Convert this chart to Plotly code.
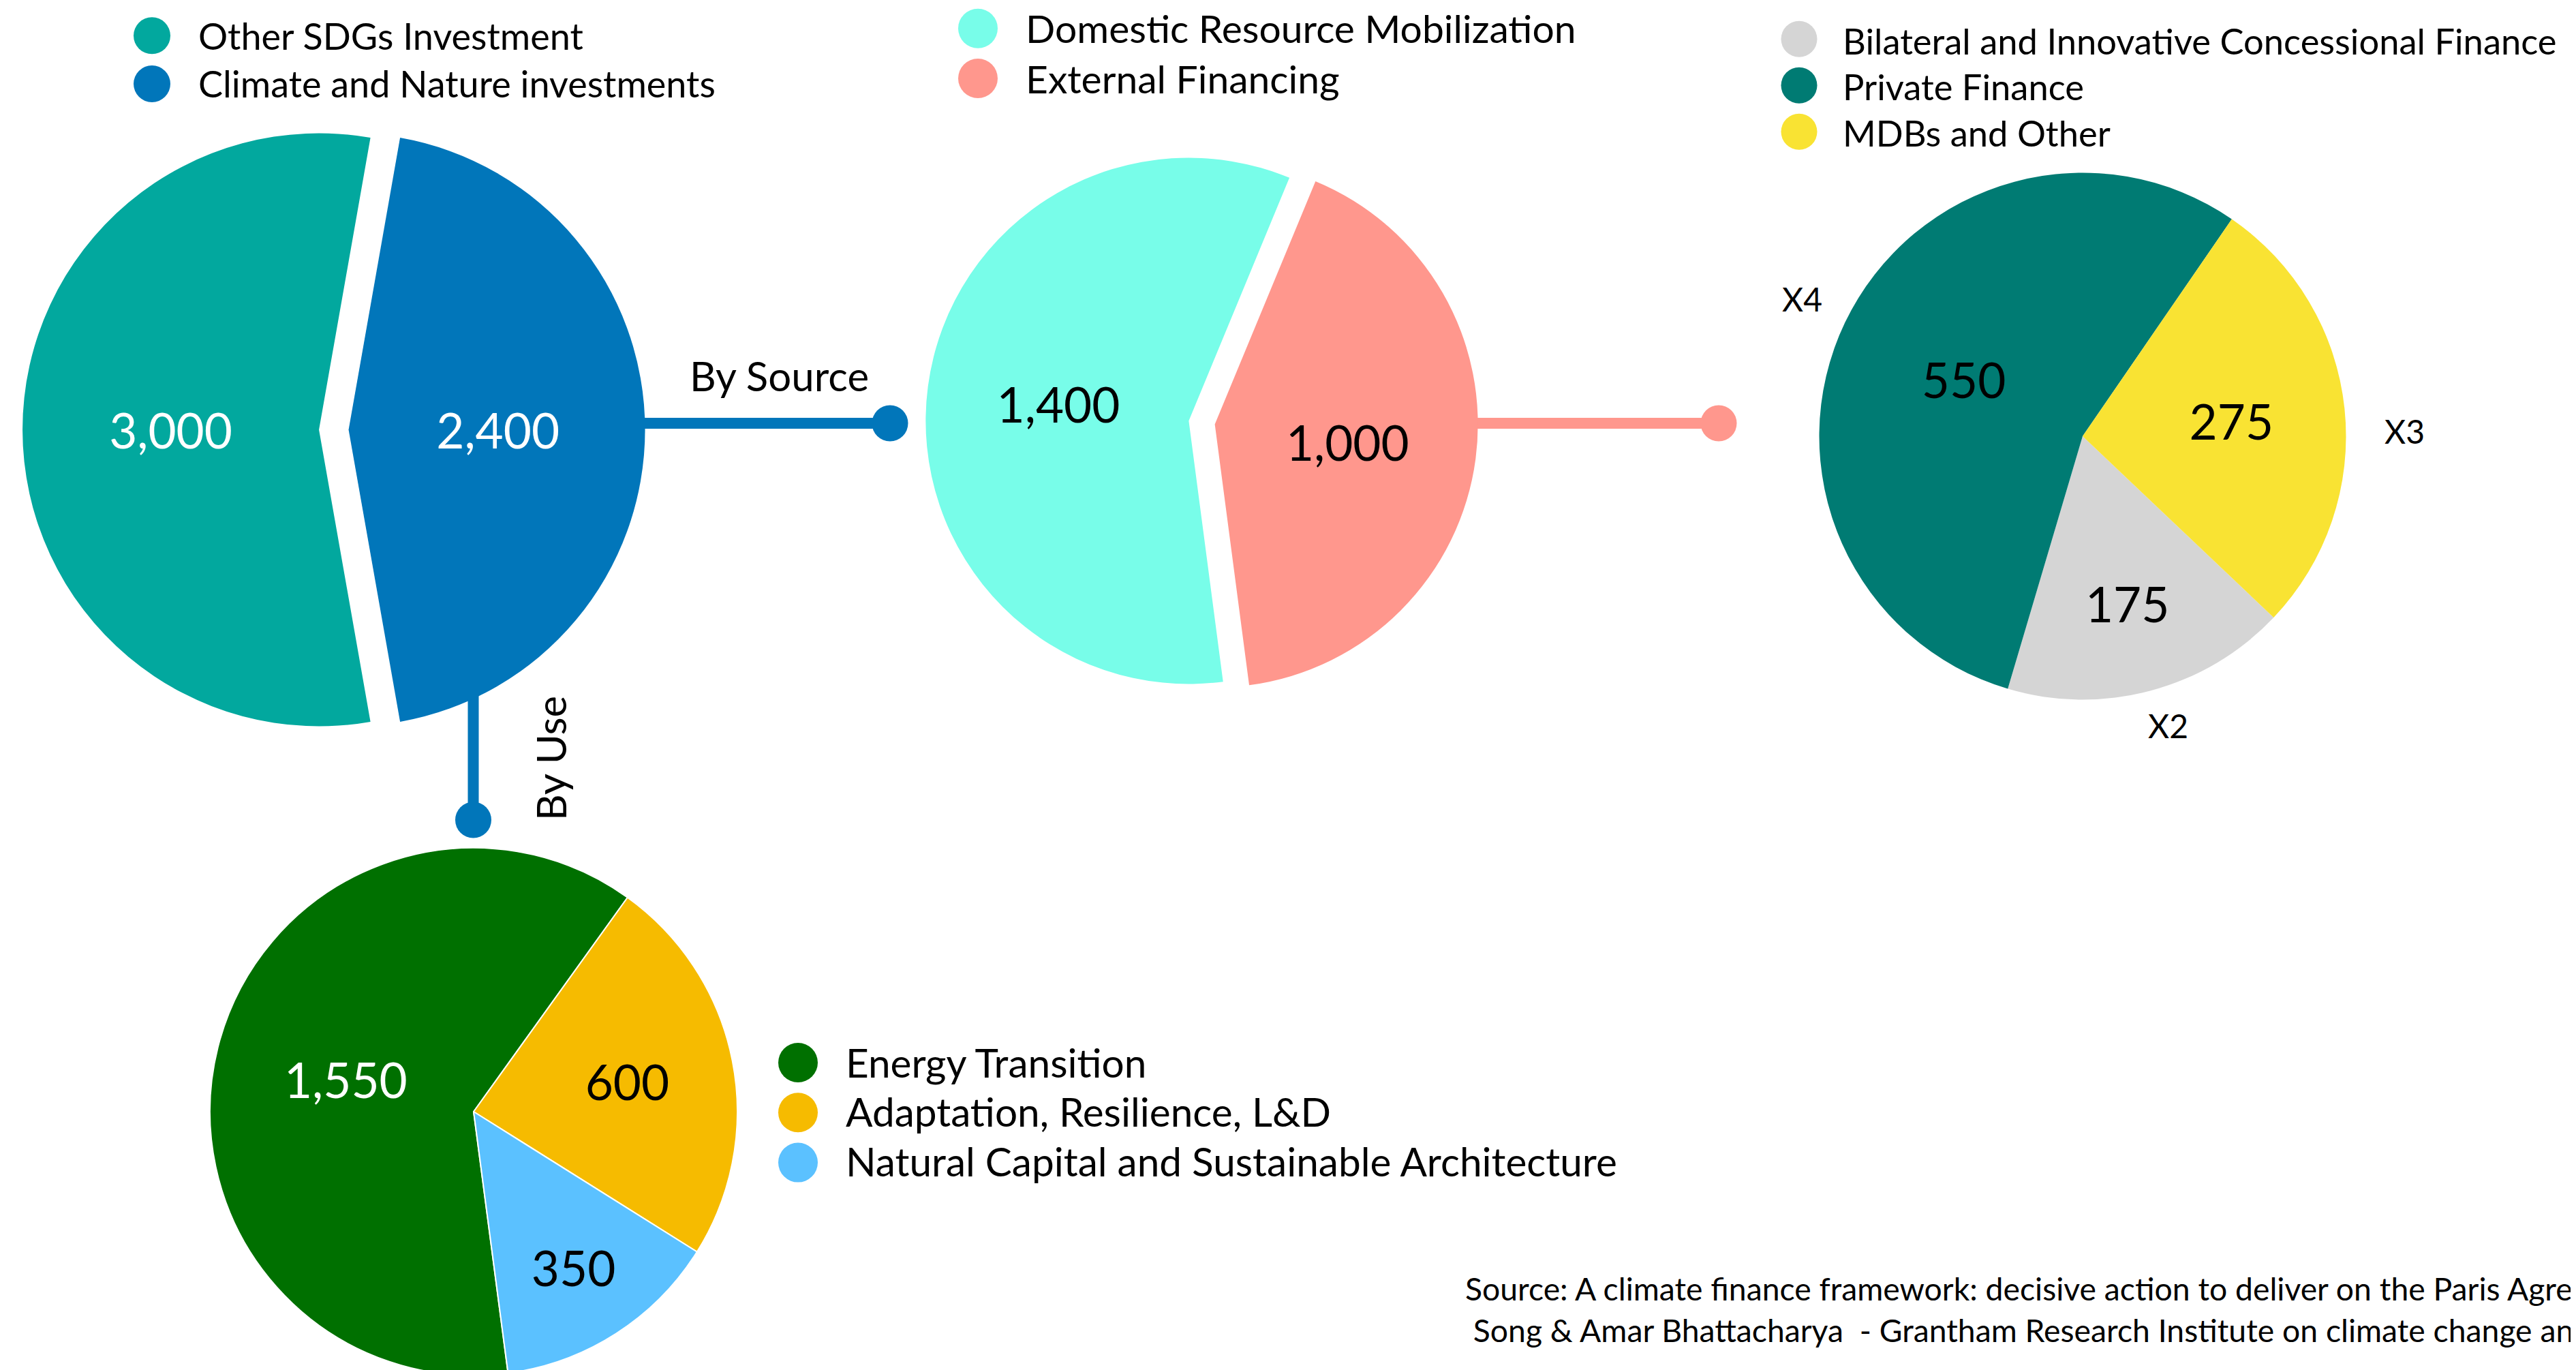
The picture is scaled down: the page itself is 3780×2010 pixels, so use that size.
import plotly.graph_objects as go

W, H = 3780, 2010
OFF = 8          # the page body margin; positions below are page pixels
FONT = "Lato"

# ---------------- data ----------------
total_labels = ["Other SDGs Investment", "Climate and Nature investments"]
total_values = [3000, 2400]
total_colors = ["#02A89E", "#0176BA"]

source_labels = ["Domestic Resource Mobilization", "External Financing"]
source_values = [1400, 1000]
source_colors = ["#78FDE9", "#FF978D"]

external_labels = ["Bilateral and Innovative Concessional Finance", "Private Finance", "MDBs and Other"]
external_values = [175, 550, 275]
external_multipliers = ["X2", "X4", "X3"]
external_colors = ["#D5D5D5", "#007B73", "#F9E333"]

use_labels = ["Energy Transition", "Adaptation, Resilience, L&D",
              "Natural Capital and Sustainable Architecture"]
use_values = [1550, 600, 350]
use_colors = ["#007000", "#F6BB00", "#5BC1FF"]

source_note = [
    "Source: A climate finance framework: decisive action to deliver on the Paris Agreement - Nicholas Stern, Vera",
    " Song & Amar Bhattacharya  - Grantham Research Institute on climate change and the environment",
]


def px(v):
    return v - OFF


def dom(cx, cy, r, pull=0.0):
    cx, cy = px(cx), px(cy)
    half = r * (1 + pull)
    y0 = max(0.0, 1 - (cy + half) / H)
    return dict(x=[(cx - half) / W, (cx + half) / W],
                y=[y0, min(1.0, 1 - (cy - half) / H)])


fig = go.Figure()

# ---------------- connectors (drawn under the pies) ----------------
def connector(xs, ys, end, color):
    fig.add_trace(go.Scatter(
        x=[px(v) for v in xs], y=[px(v) for v in ys], mode="lines",
        line=dict(color=color, width=16),
        hoverinfo="skip", showlegend=False, xaxis="x", yaxis="y"))
    fig.add_trace(go.Scatter(
        x=[px(end[0])], y=[px(end[1])], mode="markers",
        marker=dict(size=53, color=color, opacity=1, line=dict(width=0)),
        hoverinfo="skip", showlegend=False, xaxis="x", yaxis="y"))

connector([925, 1306], [621, 621], (1306, 621), "#0176BA")
connector([2145, 2522], [621, 621], (2522, 621), "#FF978D")
connector([694.5, 694.5], [1000, 1203], (694.5, 1203), "#0176BA")

# ---------------- pies ----------------
common = dict(sort=False, textinfo="value", texttemplate="%{value:,}",
              textposition="inside", insidetextorientation="horizontal",
              hoverinfo="skip", showlegend=False)

fig.add_trace(go.Pie(
    labels=total_labels, values=total_values, direction="counterclockwise", rotation=170,
    pull=[0.05, 0.05], domain=dom(489.8, 630.5, 435, 0.05),
    marker=dict(colors=total_colors, line=dict(width=0)),
    textfont=dict(family=FONT, size=71, color=["white", "white"]), **common))

fig.add_trace(go.Pie(
    labels=source_labels, values=source_values, direction="counterclockwise", rotation=172.5,
    pull=[0.05, 0.05], domain=dom(1763.5, 620, 386, 0.05),
    marker=dict(colors=source_colors, line=dict(width=0)),
    textfont=dict(family=FONT, size=71, color=["black", "black"]), **common))

fig.add_trace(go.Pie(
    labels=external_labels, values=external_values, direction="clockwise", rotation=133.5,
    domain=dom(3056, 640, 386.5),
    marker=dict(colors=external_colors, line=dict(width=0)),
    textfont=dict(family=FONT, size=71, color=["black", "black", "black"]), **common))

fig.add_trace(go.Pie(
    labels=use_labels, values=use_values, direction="clockwise", rotation=172.5,
    domain=dom(695, 1631, 387),
    marker=dict(colors=use_colors, line=dict(width=2, color="white")),
    textfont=dict(family=FONT, size=71, color=["white", "black", "black"]), **common))

# ---------------- custom legends ----------------
def legend(labels, colors, mx, my0, mdy, tx, ty0, tdy, size, fsize):
    n = len(labels)
    fig.add_trace(go.Scatter(
        x=[px(mx)] * n, y=[px(my0 + i * mdy) for i in range(n)], mode="markers",
        marker=dict(size=size, color=colors, opacity=1, line=dict(width=0)),
        hoverinfo="skip", showlegend=False, xaxis="x", yaxis="y"))
    # text trace: its cap-height centre sits ~0.108*fsize above the given y
    fig.add_trace(go.Scatter(
        x=[px(tx)] * n, y=[px(ty0 + i * tdy + 0.108 * fsize) for i in range(n)],
        mode="text", text=labels,
        textposition="middle right", textfont=dict(family=FONT, size=fsize, color="black"),
        hoverinfo="skip", showlegend=False, xaxis="x", yaxis="y"))

legend(total_labels, total_colors, 223, 52.3, 70.7, 291, 53.7, 70, 54, 54)
legend(source_labels, source_colors, 1435, 41.7, 73.3, 1505, 43, 73.7, 58, 57)
legend(external_labels, external_colors, 2640, 57.3, 68, 2704, 61.3, 67.3, 53, 52.5)
legend(use_labels, use_colors, 1171, 1559, 73.3, 1241, 1560.2, 72.2, 58, 58.5)

# ---------------- annotations ----------------
ann = []
def txt(x, y, s, size, angle=0, xanchor="center"):
    ann.append(dict(x=px(x), y=px(y), xref="x", yref="y", text=s, showarrow=False,
                    xanchor=xanchor, yanchor="middle", textangle=angle,
                    font=dict(family=FONT, size=size, color="black")))

txt(1143, 551, "By Source", 60)
txt(808, 1113, "By Use", 60, angle=-90)
mult_pos = [(3181, 1064), (2644, 438), (3528, 632)]
for (x, y), s in zip(mult_pos, external_multipliers):
    txt(x, y, s, 48)
txt(2148, 1890, source_note[0], 46.3, xanchor="left")
txt(2148, 1951, source_note[1], 46.3, xanchor="left")

fig.update_layout(
    width=W, height=H, margin=dict(l=0, r=0, t=0, b=0),
    paper_bgcolor="white", plot_bgcolor="white",
    xaxis=dict(range=[0, W], visible=False, fixedrange=True, domain=[0, 1]),
    yaxis=dict(range=[H, 0], visible=False, fixedrange=True, domain=[0, 1]),
    annotations=ann, font=dict(family=FONT),
)

fig.write_html("out.html")
